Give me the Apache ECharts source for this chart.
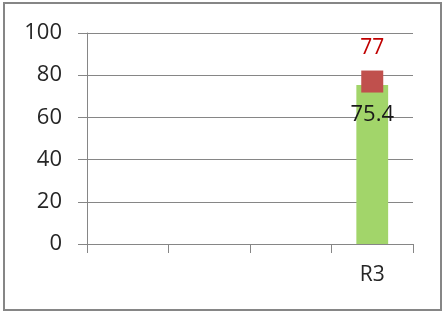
<!DOCTYPE html>
<html>
<head>
<meta charset="utf-8">
<script src="https://cdn.jsdelivr.net/npm/echarts@6/dist/echarts.min.js"></script>
<style>
  html, body { margin: 0; padding: 0; background: #fff; }
  #chart { width: 445px; height: 314px; }
</style>
</head>
<body>
<div id="chart"></div>
<script>
const categories = ['', '', '', 'R3'];
const barValues = [null, null, null, 75.4];
const markerValues = [null, null, null, 77];
const yTicks = { min: 0, max: 100, interval: 20 };

const chart = echarts.init(document.getElementById('chart'));
const font = 'Open Sans, Noto Sans, sans-serif';

const option = {
  animation: false,
  graphic: [{
    type: 'rect',
    shape: { x: 4, y: 3, width: 437, height: 307 },
    style: { fill: 'none', stroke: '#868686', lineWidth: 2 }
  }],
  grid: { left: 87, right: 32, top: 33, bottom: 70 },
  xAxis: {
    type: 'category',
    data: categories,
    axisLine: { lineStyle: { color: '#868686', width: 1 } },
    axisTick: { show: true, length: 9, lineStyle: { color: '#868686' } },
    axisLabel: { color: '#262626', fontSize: 21, fontFamily: font, margin: 21 }
  },
  yAxis: {
    type: 'value',
    min: yTicks.min,
    max: yTicks.max,
    interval: yTicks.interval,
    axisLine: { show: true, lineStyle: { color: '#868686', width: 1 } },
    axisTick: { show: true, length: 9, lineStyle: { color: '#868686' } },
    splitLine: { lineStyle: { color: '#868686', width: 1 } },
    axisLabel: { color: '#262626', fontSize: 22, fontFamily: font, margin: 25 }
  },
  series: [
    {
      type: 'bar',
      data: barValues,
      barWidth: '39%',
      itemStyle: { color: '#A2D56A' },
      label: {
        show: true,
        position: 'insideTop',
        distance: 19,
        color: '#1a1a1a',
        fontSize: 22,
        fontFamily: font
      },
      z: 2
    },
    {
      type: 'scatter',
      data: markerValues,
      symbol: 'rect',
      symbolSize: 22,
      itemStyle: { color: '#C0504D', opacity: 1 },
      label: {
        show: true,
        position: 'top',
        distance: 12,
        color: '#C00000',
        fontSize: 21,
        fontFamily: font
      },
      z: 3
    }
  ]
};

chart.setOption(option);
</script>
</body>
</html>
